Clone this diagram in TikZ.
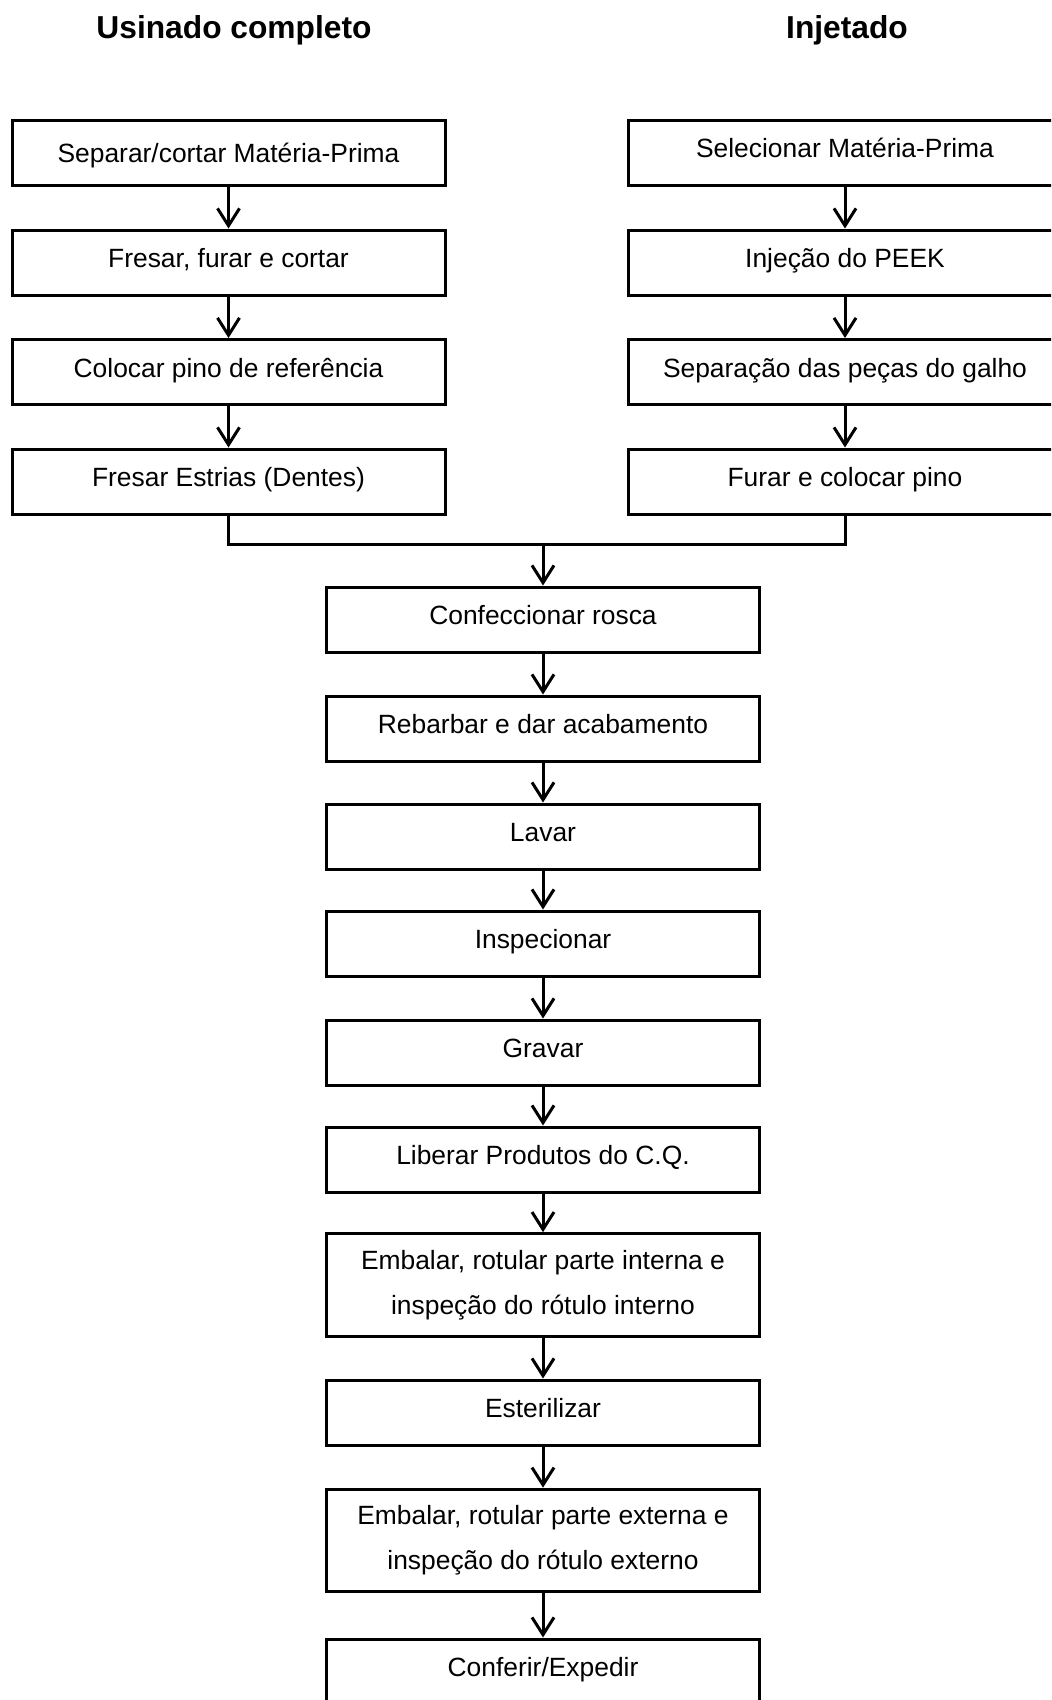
\documentclass[tikz,border=0pt]{standalone}
\usepackage{fontspec}
\setmainfont{Liberation Sans}
\usetikzlibrary{arrows.meta}
\begin{document}
\begin{tikzpicture}[x=0.75pt,y=-0.75pt,
  base/.style={draw, line width=2.25pt, minimum width=324.75pt, inner sep=0pt,
    font=\fontsize{19.8pt}{33.75pt}\selectfont},
  stepbox/.style={base, minimum height=48.75pt, text height=11.25pt, text depth=3.75pt},
  tallbox/.style={base, minimum height=77pt, align=center},
  flow/.style={line width=2.25pt, -{Straight Barb[length=13pt,width=16.5pt]}},
  joinline/.style={line width=2.25pt},
  title/.style={font=\fontsize{23.8pt}{28pt}\selectfont\bfseries}]
\clip (0,0) rectangle (1051,1700);
\fill[white] (0,0) rectangle (1051,1700);

% titles
\node[title] (t1) at (234,30) {Usinado completo};
\node[title] (t2) at (847,30) {Injetado};

% left column
\node[stepbox, text height=18.75pt] (l1) at (228.5,152.5) {Separar/cortar Matéria-Prima};
\node[stepbox] (l2) at (228.5,262.5) {Fresar, furar e cortar};
\node[stepbox] (l3) at (228.5,372) {Colocar pino de referência};
\node[stepbox] (l4) at (228.5,481.5) {Fresar Estrias (Dentes)};

% right column
\node[stepbox] (r1) at (845,152.5) {Selecionar Matéria-Prima};
\node[stepbox] (r2) at (845,262.5) {Injeção do PEEK};
\node[stepbox] (r3) at (845,372) {Separação das peças do galho};
\node[stepbox] (r4) at (845,481.5) {Furar e colocar pino};

% central column
\node[stepbox] (c1) at (543,619.5) {Confeccionar rosca};
\node[stepbox] (c2) at (543,728.5) {Rebarbar e dar acabamento};
\node[stepbox] (c3) at (543,836.5) {Lavar};
\node[stepbox] (c4) at (543,943.5) {Inspecionar};
\node[stepbox] (c5) at (543,1052.5) {Gravar};
\node[stepbox] (c6) at (543,1159.5) {Liberar Produtos do C.Q.};
\node[tallbox] (c7) at (543,1285) {Embalar, rotular parte interna e\\inspeção do rótulo interno};
\node[stepbox] (c8) at (543,1412.5) {Esterilizar};
\node[tallbox] (c9) at (543,1540.5) {Embalar, rotular parte externa e\\inspeção do rótulo externo};
\node[stepbox] (c10) at (543,1671.5) {Conferir/Expedir};

% connectors
\draw[flow] (l1) -- (l2);
\draw[flow] (l2) -- (l3);
\draw[flow] (l3) -- (l4);
\draw[flow] (r1) -- (r2);
\draw[flow] (r2) -- (r3);
\draw[flow] (r3) -- (r4);

\coordinate (jn) at (543,544);
\draw[joinline] (l4.south) |- (jn) -| (r4.south);
\draw[flow] (jn) -- (c1.north);

\draw[flow] (c1) -- (c2);
\draw[flow] (c2) -- (c3);
\draw[flow] (c3) -- (c4);
\draw[flow] (c4) -- (c5);
\draw[flow] (c5) -- (c6);
\draw[flow] (c6) -- (c7);
\draw[flow] (c7) -- (c8);
\draw[flow] (c8) -- (c9);
\draw[flow] (c9) -- (c10);
\end{tikzpicture}
\end{document}
